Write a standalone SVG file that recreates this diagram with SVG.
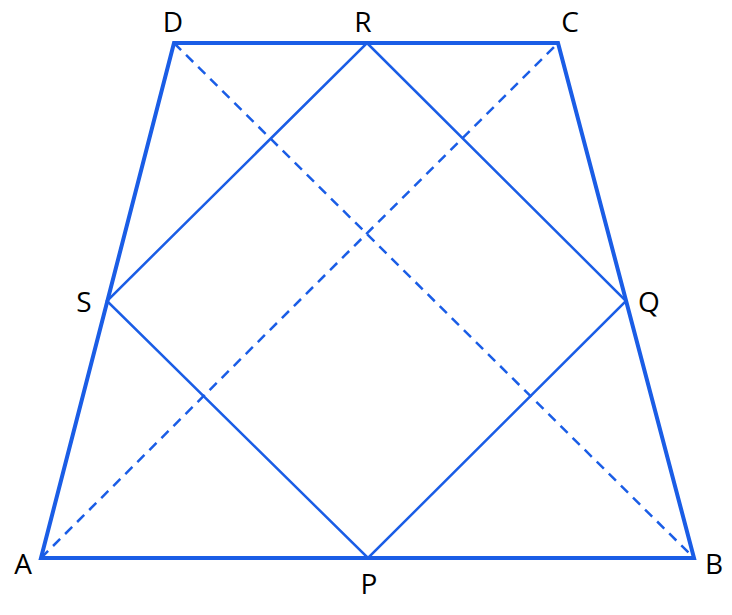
<svg xmlns="http://www.w3.org/2000/svg" width="732" height="615" viewBox="0 0 732 615">
<style>
.t{stroke:#1a5de6;stroke-width:4;fill:none;stroke-linejoin:miter}
.m{stroke:#1a5de6;stroke-width:2.5;fill:none}
.d{stroke:#1a5de6;stroke-width:2.5;fill:none;stroke-dasharray:10 7}
text{font-family:"Open Sans","Liberation Sans",sans-serif;font-size:28px;fill:#000;text-anchor:middle}
</style>
<rect width="732" height="615" fill="#fff"/>
<g id="connectors">
<polygon class="t" points="41,558 694,558 558,43 174,43"/>
<line class="d" x1="41" y1="558" x2="558" y2="43"/>
<line class="d" x1="174" y1="43" x2="694" y2="558"/>
<polygon class="m" points="367,43 626,301 368,558 107,301"/>
</g>
<g id="A"><text x="23" y="574">A</text></g>
<g id="B"><text x="714" y="574">B</text></g>
<g id="C"><text x="570" y="32">C</text></g>
<g id="D"><text x="173" y="32">D</text></g>
<g id="R"><text x="363" y="32">R</text></g>
<g id="P"><text x="369" y="594">P</text></g>
<g id="S"><text x="84" y="312">S</text></g>
<g id="Q"><text x="649" y="312">Q</text></g>
</svg>
